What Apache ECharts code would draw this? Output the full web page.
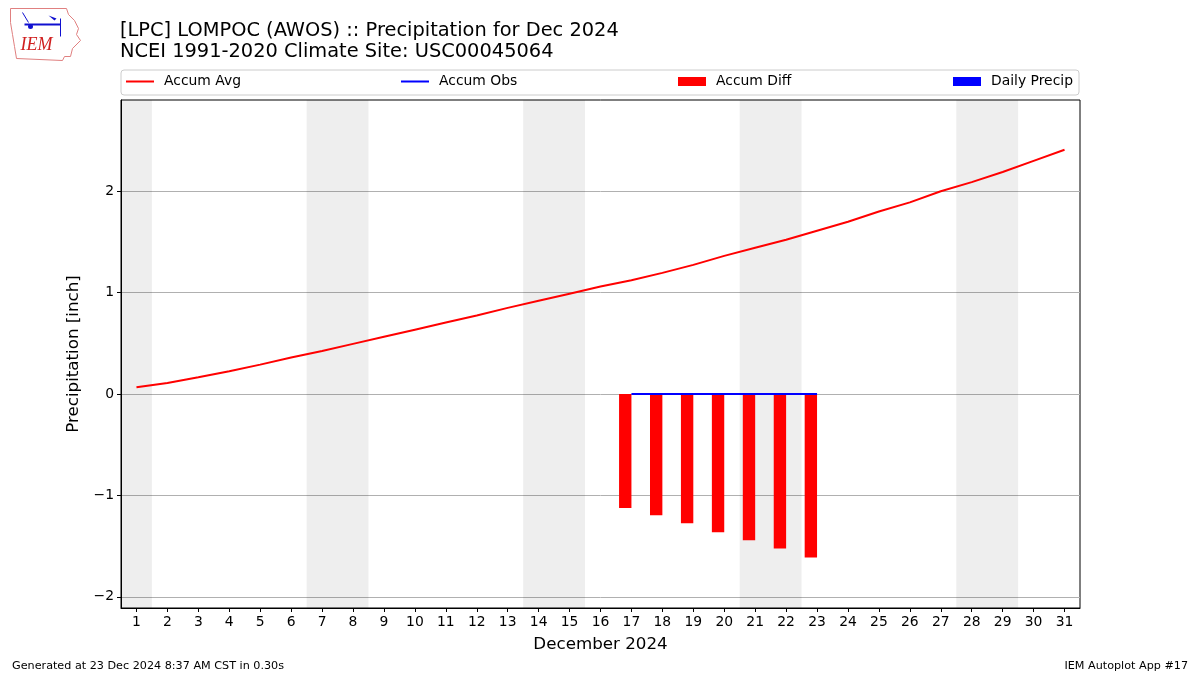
<!DOCTYPE html>
<html>
<head>
<meta charset="utf-8">
<script src="https://cdn.jsdelivr.net/npm/echarts@6/dist/echarts.min.js"></script>
<style>
html,body{margin:0;padding:0;background:#fff;}
#chart{width:1200px;height:675px;}
</style>
</head>
<body>
<div id="chart"></div>
<script>
var days = ['1','2','3','4','5','6','7','8','9','10','11','12','13','14','15','16','17','18','19','20','21','22','23','24','25','26','27','28','29','30','31'];
var accumAvg = [0.066,0.11,0.165,0.225,0.29,0.36,0.425,0.495,0.565,0.635,0.705,0.775,0.85,0.92,0.99,1.06,1.123,1.195,1.274,1.363,1.443,1.522,1.611,1.70,1.80,1.89,2.0,2.09,2.19,2.30,2.41];
var accumObs = [null,null,null,null,null,null,null,null,null,null,null,null,null,null,null,null,0,0,0,0,0,0,0,null,null,null,null,null,null,null,null];
var accumDiff = [null,null,null,null,null,null,null,null,null,null,null,null,null,null,null,null,-1.123,-1.195,-1.274,-1.363,-1.443,-1.522,-1.611,null,null,null,null,null,null,null,null];
var dailyPrecip = [null,null,null,null,null,null,null,null,null,null,null,null,null,null,null,null,0,0,0,0,0,0,0,null,null,null,null,null,null,null,null];
var weekendSpans = [[0.5,1.5],[6.5,8.5],[13.5,15.5],[20.5,22.5],[27.5,29.5]];
var yTicks = [-2,-1,0,1,2];

var FONT = 'DejaVu Sans';
var chart = echarts.init(document.getElementById('chart'), null, {renderer:'canvas'});

function legendAt(left, name, icon, h, color){
  return {
    left: left, top: 74.5, orient:'horizontal', padding:0,
    data:[{name:name, icon:icon, itemStyle:{color:color}}],
    itemWidth: 28, itemHeight: h,
    selectedMode:false,
    textStyle:{fontFamily:FONT, fontSize:13.9, color:'#000', padding:[0,0,0,5]}
  };
}

var option = {
  animation:false,
  backgroundColor:'#fff',
  textStyle:{fontFamily:FONT},
  title:{
    text:'[LPC] LOMPOC (AWOS) :: Precipitation for Dec 2024\nNCEI 1991-2020 Climate Site: USC00045064',
    left:115, top:15,
    textStyle:{fontFamily:FONT, fontSize:19.4, fontWeight:'normal', color:'#000', lineHeight:21.5}
  },
  legend:[
    legendAt(126,'Accum Avg','rect',2,'#ff0000'),
    legendAt(401,'Accum Obs','rect',2,'#0000ff'),
    legendAt(678,'Accum Diff','rect',9,'#ff0000'),
    legendAt(953,'Daily Precip','rect',9,'#0000ff')
  ],
  grid:{left:121, right:120, top:100, bottom:67, show:true, borderColor:'#000', borderWidth:1, backgroundColor:'transparent'},
  xAxis:[{
    type:'category', data:days, boundaryGap:true,
    name:'December 2024', nameLocation:'middle', nameGap:28,
    nameTextStyle:{fontFamily:FONT, fontSize:16.7, color:'#000'},
    axisLine:{show:true, onZero:false, lineStyle:{color:'#000', width:1}},
    axisTick:{show:true, alignWithLabel:true, interval:0, length:4, lineStyle:{color:'#000'}},
    axisLabel:{interval:0, fontFamily:FONT, fontSize:13.9, color:'#000', margin:7},
    splitLine:{show:false}
  },{
    type:'value', min:0.5, max:31.5, show:false
  }],
  yAxis:[{
    type:'value', min:-2.11, max:2.9,
    name:'Precipitation [inch]', nameLocation:'middle', nameGap:37,
    nameTextStyle:{fontFamily:FONT, fontSize:16.7, color:'#000'},
    axisLine:{show:true, lineStyle:{color:'#000'}},
    axisTick:{show:true, length:4, lineStyle:{color:'#000'}, customValues:yTicks},
    axisLabel:{fontFamily:FONT, fontSize:13.9, color:'#000', margin:7, customValues:yTicks,
      formatter:function(v){ return v < 0 ? '\u2212' + Math.abs(v) : String(v); }},
    splitLine:{show:true, lineStyle:{color:'#b0b0b0', width:1}}
  }],
  series:[
    {
      name:'weekend', type:'line', xAxisIndex:1, yAxisIndex:0, data:[], silent:true, z:1,
      markArea:{silent:true, itemStyle:{color:'rgba(0,0,0,0.067)'},
        data: weekendSpans.map(function(s){ return [{xAxis:s[0]},{xAxis:s[1]}]; })}
    },
    {
      name:'Accum Diff', type:'bar', data:accumDiff, barWidth:'40%', barGap:'0%',
      itemStyle:{color:'#ff0000'}, z:2
    },
    {
      name:'Daily Precip', type:'bar', data:dailyPrecip, barWidth:'40%', barGap:'0%',
      itemStyle:{color:'#0000ff'}, z:2
    },
    {
      name:'Accum Avg', type:'line', data:accumAvg, showSymbol:false, symbol:'none',
      lineStyle:{color:'#ff0000', width:2}, itemStyle:{color:'#ff0000'}, z:3
    },
    {
      name:'Accum Obs', type:'line', data:accumObs, showSymbol:false, symbol:'none',
      lineStyle:{color:'#0000ff', width:2}, itemStyle:{color:'#0000ff'}, z:4
    }
  ],
  graphic:[
    {type:'rect', shape:{x:121, y:70, width:958, height:25, r:3}, style:{fill:'none', stroke:'#cccccc', lineWidth:1}, z:-1},
    {type:'text', left:12, top:661, style:{text:'Generated at 23 Dec 2024 8:37 AM CST in 0.30s', font:'11.2px "DejaVu Sans"', fill:'#000'}},
    {type:'text', right:12, top:661, style:{text:'IEM Autoplot App #17', font:'11.2px "DejaVu Sans"', fill:'#000'}},
    {type:'group', left:8, top:6, children:[
      {type:'polyline', shape:{points:[[2,2],[58,2],[60,8],[66,14],[70,22],[68,28],[72,34],[64,42],[62,50],[56,50],[54,54],[8,52],[6,40],[4,28],[2,16],[2,2]]}, style:{stroke:'#e08080', fill:'none', lineWidth:1}},
      {type:'line', shape:{x1:16, y1:18, x2:52, y2:18}, style:{stroke:'#1010d0', lineWidth:2}},
      {type:'line', shape:{x1:14, y1:6, x2:20, y2:16}, style:{stroke:'#1010d0', lineWidth:1}},
      {type:'polygon', shape:{points:[[40,9],[48,12],[46,14]]}, style:{fill:'#1010d0'}},
      {type:'line', shape:{x1:52, y1:12, x2:52, y2:30}, style:{stroke:'#1010d0', lineWidth:1}},
      {type:'circle', shape:{cx:22, cy:20, r:2.5}, style:{fill:'#1010d0'}},
      {type:'text', x:12, y:30, style:{text:'IEM', font:'italic 18px "Liberation Serif"', fill:'#d02020'}}
    ]}
  ]
};
chart.setOption(option);
</script>
</body>
</html>
